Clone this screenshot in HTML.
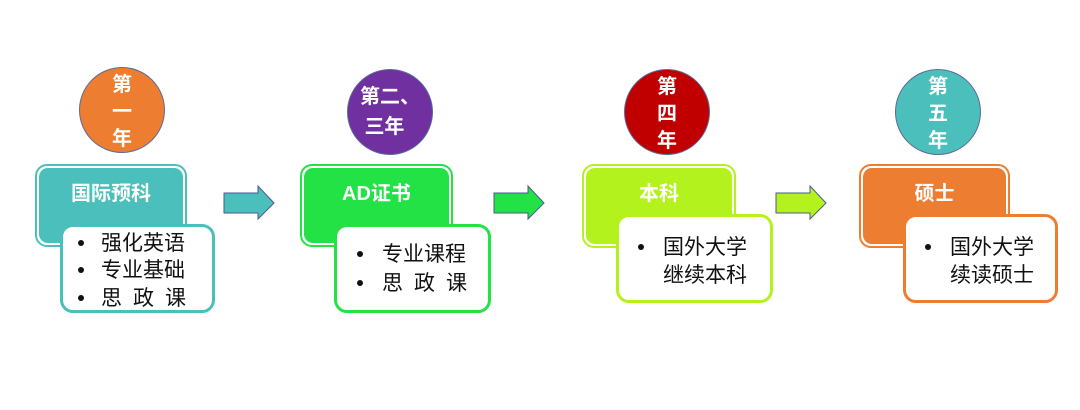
<!DOCTYPE html>
<html><head><meta charset="utf-8"><style>
body{margin:0;width:1080px;height:410px;background:#fff;position:relative;overflow:hidden;font-family:"Liberation Sans","Noto Sans CJK SC",sans-serif;}
.c{position:absolute;width:86px;height:86px;border-radius:50%;border:1px solid #5a6a9a;box-sizing:border-box;color:#fff;font-weight:bold;font-size:20px;line-height:27px;text-align:center;display:flex;align-items:center;justify-content:center;padding-top:5px;}
.t{position:absolute;box-sizing:border-box;border:2px solid;border-radius:12px;padding:2px;background:#fff;}
.t div{width:100%;height:100%;border-radius:9px;color:#fff;font-weight:bold;font-size:20px;text-align:center;padding-top:9px;box-sizing:border-box;}
.b{position:absolute;box-sizing:border-box;border:3px solid;border-radius:13px;background:#fff;font-size:21px;color:#111;}
.b p{margin:0;position:absolute;white-space:nowrap;}
.dot{position:absolute;width:6px;height:6px;border-radius:50%;background:#111;}
svg{position:absolute;left:0;top:0}
</style></head><body>
<svg width="1080" height="410">
<polygon points="224,193 258,193 258,186 274,203 258,219 258,213 224,213" fill="#4bbfbb" stroke="#4a5a95" stroke-width="1"/>
<polygon points="494,193 528,193 528,186 544,203 528,219 528,213 494,213" fill="#22e245" stroke="#4a5a95" stroke-width="1"/>
<polygon points="776,193 810,193 810,186 826,203 810,219 810,213 776,213" fill="#b3f21c" stroke="#4a5a95" stroke-width="1"/>
</svg>

<div class="c" style="left:79px;top:67px;background:#ed7d31;">第<br>一<br>年</div>
<div class="c" style="left:347px;top:69px;background:#7030a0;line-height:30px;padding-top:0;">第二、<br>三年&nbsp;&nbsp;</div>
<div class="c" style="left:624px;top:69px;background:#c00000;">第<br>四<br>年</div>
<div class="c" style="left:895px;top:69px;background:#4bbfbb;">第<br>五<br>年</div>

<div class="t" style="left:35px;top:164px;width:152px;height:83px;border-color:#4bbfbb;"><div style="background:#4bbfbb">国际预科</div></div>
<div class="t" style="left:300px;top:164px;width:153px;height:83px;border-color:#22e245;"><div style="background:#22e245">AD证书</div></div>
<div class="t" style="left:582px;top:164px;width:154px;height:84px;border-color:#b3f21c;"><div style="background:#b3f21c">本科</div></div>
<div class="t" style="left:859px;top:164px;width:151px;height:84px;border-color:#ed7d31;"><div style="background:#ed7d31">硕士</div></div>

<div class="b" style="left:60px;top:224px;width:155px;height:89px;border-color:#4bbfbb;">
<span class="dot" style="left:15px;top:13px"></span><p style="left:38px;top:0px">强化英语</p>
<span class="dot" style="left:15px;top:40px"></span><p style="left:38px;top:27px">专业基础</p>
<span class="dot" style="left:15px;top:68px"></span><p style="left:38px;top:55px;letter-spacing:11px">思政课</p>
</div>
<div class="b" style="left:334px;top:224px;width:157px;height:89px;border-color:#22e245;">
<span class="dot" style="left:20px;top:24px"></span><p style="left:45px;top:11px">专业课程</p>
<span class="dot" style="left:20px;top:53px"></span><p style="left:45px;top:40px;letter-spacing:11px">思政课</p>
</div>
<div class="b" style="left:616px;top:214px;width:157px;height:89px;border-color:#b3f21c;">
<span class="dot" style="left:19px;top:27px"></span><p style="left:44px;top:14px">国外大学</p>
<p style="left:44px;top:42px">继续本科</p>
</div>
<div class="b" style="left:903px;top:214px;width:155px;height:89px;border-color:#ed7d31;">
<span class="dot" style="left:19px;top:27px"></span><p style="left:44px;top:14px">国外大学</p>
<p style="left:44px;top:42px">续读硕士</p>
</div>
</body></html>
